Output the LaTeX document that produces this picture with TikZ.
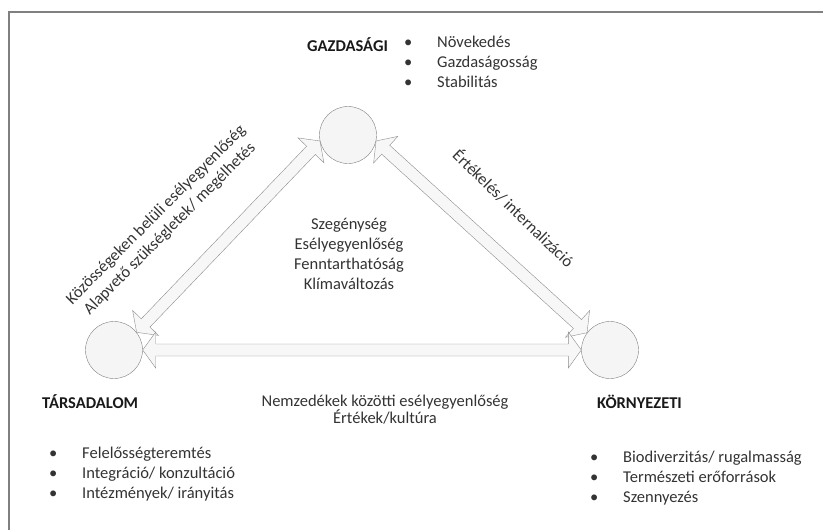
\documentclass[tikz,border=0pt]{standalone}
\usepackage{fontspec}
\setmainfont{Carlito}
\usetikzlibrary{calc,backgrounds}

\def\headlen{13pt}
\def\headwid{18pt}
\def\shaftwid{6pt}
\newcommand{\pont}{\makebox[33pt][l]{\textbullet}}

\begin{document}
\begin{tikzpicture}[x=1pt, y=-1pt,
  every node/.style={font=\fontsize{16.5}{20}\selectfont, text=black!80, inner sep=0pt},
  pillar/.style={circle, draw=gray, fill=gray!8, minimum size=57pt},
  pillarname/.style={font=\fontsize{16.5}{20}\selectfont\bfseries, text=black!90, anchor=base west},
  points/.style={align=left, anchor=north west},
  twoway/.style={draw=gray!90, fill=gray!6, line join=miter, to path={
    -- ($(\tikztostart)!\headlen!(\tikztotarget)!\headwid!90:(\tikztotarget)$)
    -- ($(\tikztostart)!\headlen!(\tikztotarget)!\shaftwid!90:(\tikztotarget)$)
    -- ($(\tikztotarget)!\headlen!(\tikztostart)!\shaftwid!-90:(\tikztostart)$)
    -- ($(\tikztotarget)!\headlen!(\tikztostart)!\headwid!-90:(\tikztostart)$)
    -- (\tikztotarget)
    -- ($(\tikztotarget)!\headlen!(\tikztostart)!\headwid!90:(\tikztostart)$)
    -- ($(\tikztotarget)!\headlen!(\tikztostart)!\shaftwid!90:(\tikztostart)$)
    -- ($(\tikztostart)!\headlen!(\tikztotarget)!\shaftwid!-90:(\tikztotarget)$)
    -- ($(\tikztostart)!\headlen!(\tikztotarget)!\headwid!-90:(\tikztotarget)$)
    -- cycle}}]
\useasboundingbox (0,0) rectangle (823,530);
\draw[gray, line width=2.5pt] (9,530) -- (9,12) -- (823,12);

% the three pillars
\node[pillar] (gazd) at (348,135) {};
\node[pillar] (tars) at (114,350) {};
\node[pillar] (korny) at (610,350) {};

\begin{scope}[on background layer]
\draw[twoway] (tars.38) to (gazd.192);
\draw[twoway] (gazd.348) to (korny.143);
\draw[twoway] (tars.east) to (korny.west);
\end{scope}

% names and lists
\node[pillarname] (gazdnev) at (307,51) {GAZDASÁGI};
\node[points] (gazdlista) at (404,36) {\pont Növekedés\\\pont Gazdaságosság\\\pont Stabilitás};

\node[pillarname] (tarsnev) at (42,408) {TÁRSADALOM};
\node[points] (tarslista) at (49,447) {\pont Felelősségteremtés\\\pont Integráció/ konzultáció\\\pont Intézmények/ irányitás};

\node[pillarname] (kornynev) at (597,408) {KÖRNYEZETI};
\node[points] (kornylista) at (590,451) {\pont Biodiverzitás/ rugalmasság\\\pont Természeti erőforrások\\\pont Szennyezés};

% texts inside and along the triangle
\node[align=center] (kozep) at (349,254) {Szegénység\\Esélyegyenlőség\\Fenntarthatóság\\Klímaváltozás};
\node[align=center, font=\fontsize{16.5}{17}\selectfont] (also) at (385,410) {Nemzedékek közötti esélyegyenlőség\\Értékek/kultúra};
\node[align=center, rotate=45, font=\fontsize{16.5}{19.5}\selectfont] (bal) at (163,222) {Közösségeken belüli esélyegyenlőség\\Alapvető szükségletek/ megélhetés};
\node[rotate=-44] (jobb) at (514,208) {Értékelés/ internalizáció};
\end{tikzpicture}
\end{document}
